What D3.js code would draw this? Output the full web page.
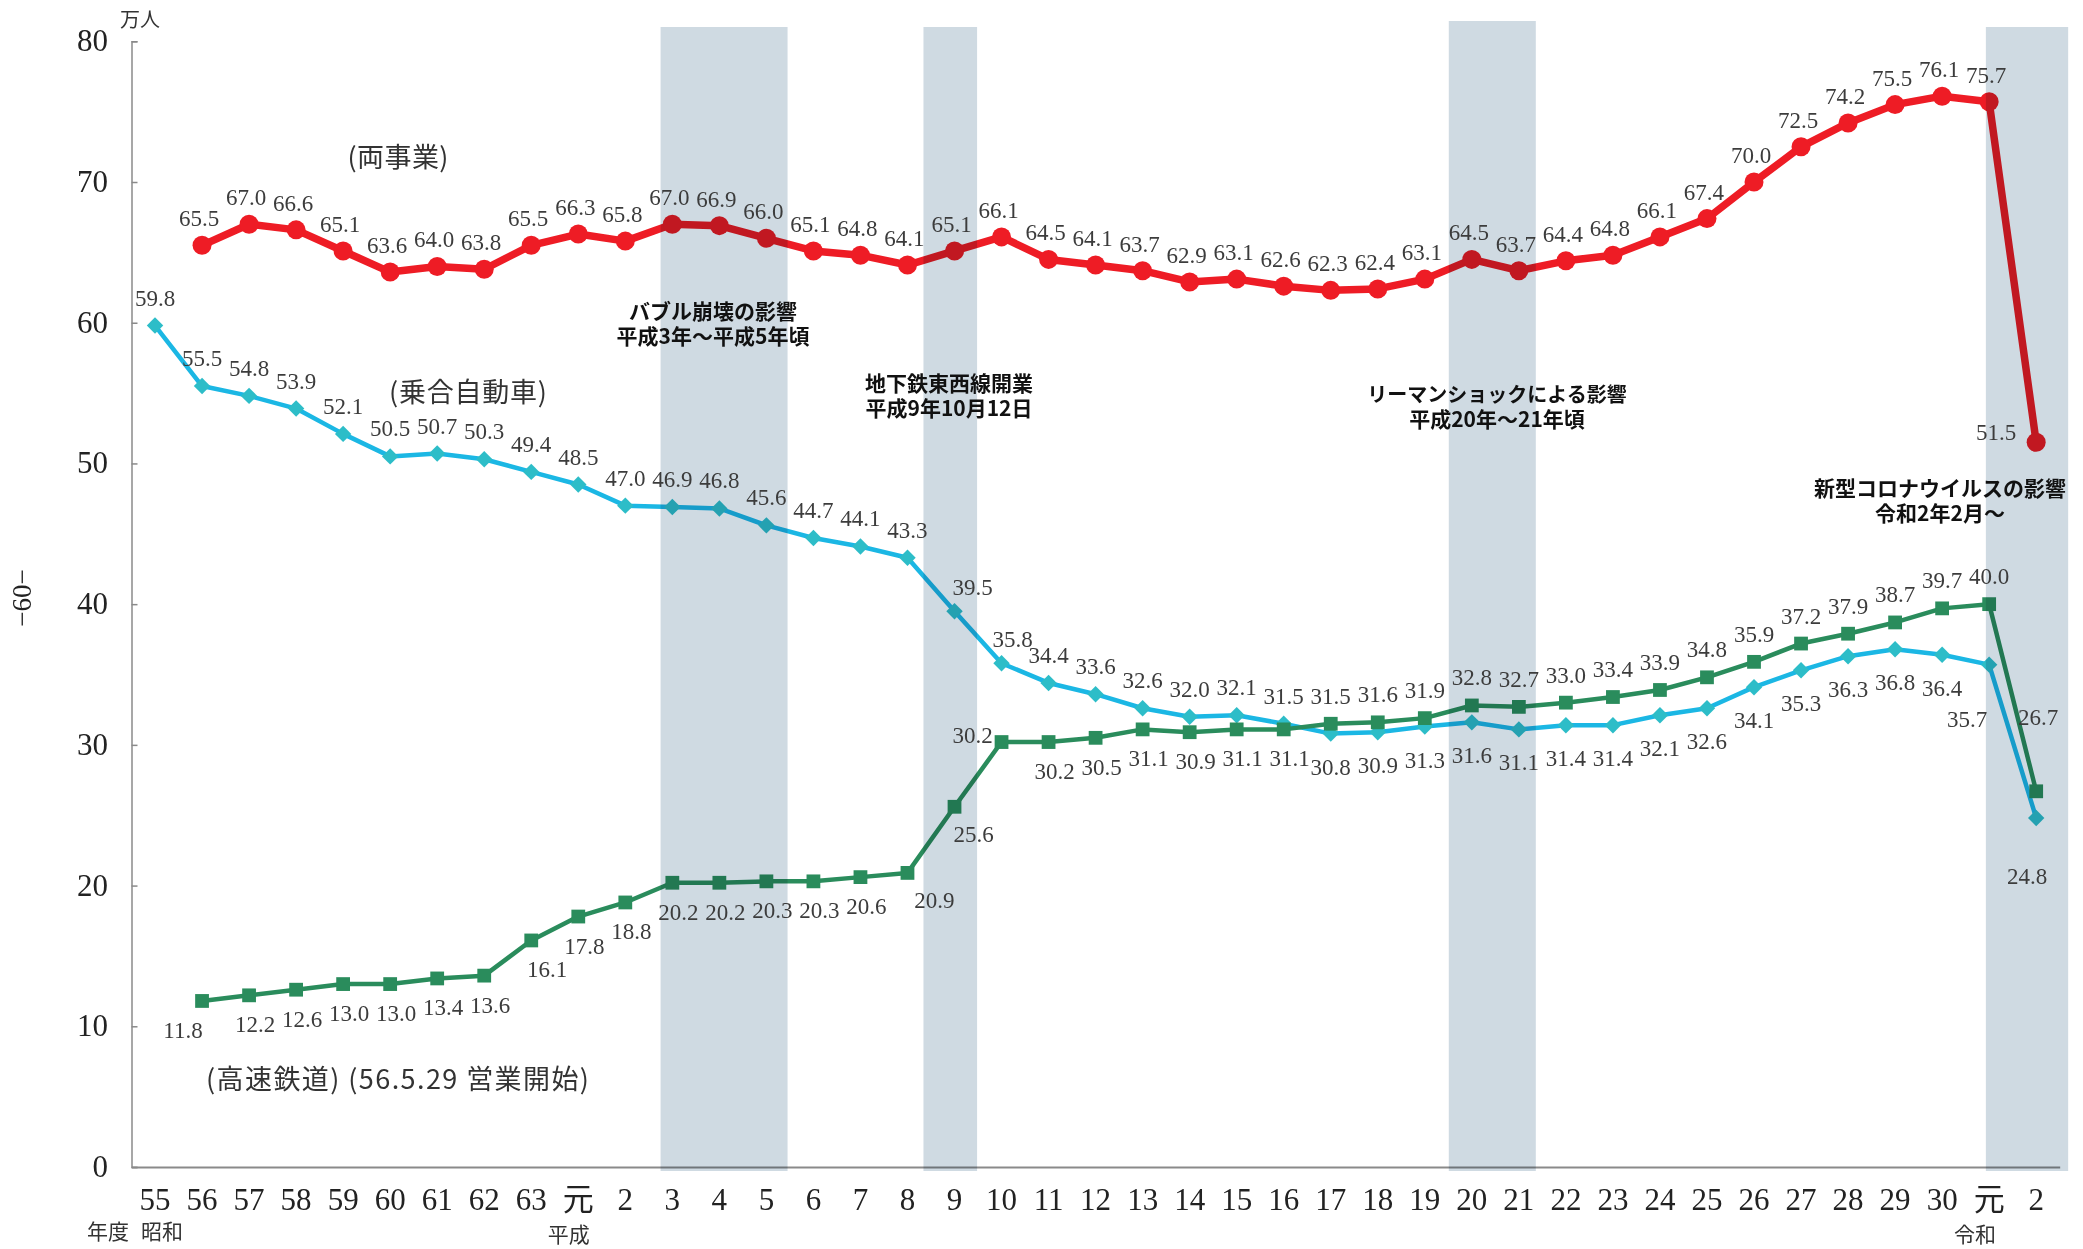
<!DOCTYPE html>
<meta charset="utf-8">
<script src="https://cdn.jsdelivr.net/npm/d3@7"></script>
<style>
body { margin: 0; background: #fff; }
.num { font-family: "Liberation Serif", serif; fill: #3c3c3c; }
.jp { font-family: "Noto Sans CJK JP", sans-serif; fill: #333; }
.note { font-family: "Noto Sans CJK JP", sans-serif; font-weight: bold; fill: #111; font-size: 21px; }
</style>
<body>
<script>

// fiscal year categories (昭和55 .. 令和2)
var years = ["55","56","57","58","59","60","61","62","63","元","2","3","4","5","6","7","8","9","10",
  "11","12","13","14","15","16","17","18","19","20","21","22","23","24","25","26","27","28","29","30","元","2"];

// 両事業 (万人)
var total = [null,65.5,67.0,66.6,65.1,63.6,64.0,63.8,65.5,66.3,65.8,67.0,66.9,66.0,65.1,64.8,64.1,65.1,66.1,
  64.5,64.1,63.7,62.9,63.1,62.6,62.3,62.4,63.1,64.5,63.7,64.4,64.8,66.1,67.4,70.0,72.5,74.2,75.5,76.1,75.7,51.5];

// 乗合自動車
var bus = [59.8,55.5,54.8,53.9,52.1,50.5,50.7,50.3,49.4,48.5,47.0,46.9,46.8,45.6,44.7,44.1,43.3,39.5,35.8,
  34.4,33.6,32.6,32.0,32.1,31.5,30.8,30.9,31.3,31.6,31.1,31.4,31.4,32.1,32.6,34.1,35.3,36.3,36.8,36.4,35.7,24.8];

// 高速鉄道
var subway = [null,11.8,12.2,12.6,13.0,13.0,13.4,13.6,16.1,17.8,18.8,20.2,20.2,20.3,20.3,20.6,20.9,25.6,30.2,
  30.2,30.5,31.1,30.9,31.1,31.1,31.5,31.6,31.9,32.8,32.7,33.0,33.4,33.9,34.8,35.9,37.2,37.9,38.7,39.7,40.0,26.7];

var yTicks = [0,10,20,30,40,50,60,70,80];

// shaded periods, in category units (start, end)
var periods = [[10.75,13.45],[16.34,17.48],[27.51,29.36],[38.93,40.68]];
var notes = [
  ["バブル崩壊の影響","平成3年～平成5年頃"],
  ["地下鉄東西線開業","平成9年10月12日"],
  ["リーマンショックによる影響","平成20年～21年頃"],
  ["新型コロナウイルスの影響","令和2年2月～"]
];
var eras = [["年度",-1.0],["昭和",0.15],["平成",8.8],["令和",38.7]];

var W = 2083, H = 1249;
var svg = d3.select("body").append("svg").attr("width", W).attr("height", H);

var x = d3.scaleBand().domain(d3.range(years.length)).range([131.5, 2059.7]);
var y = d3.scaleLinear().domain([0, 80]).range([1167, 41.3]);
var cx = function(i) { return x(i) + x.bandwidth() / 2; };
var ux = function(u) { return cx(0) + u * x.step(); };

// axes
var ya = svg.append("g").attr("transform", "translate(131.5,0)")
  .call(d3.axisRight(y).tickValues(yTicks).tickSize(6).tickFormat(""));
ya.select(".domain").attr("stroke", "#8a8a8a").attr("stroke-width", 1.5);
ya.selectAll(".tick line").attr("stroke", "#8a8a8a").attr("stroke-width", 1.5);

svg.append("g").selectAll("text").data(yTicks).enter().append("text")
  .attr("class", "num").attr("x", 108).attr("y", function(d) { return y(d) + 10; })
  .attr("text-anchor", "end").style("font-size", "31px").style("fill", "#222")
  .text(function(d) { return d; });

var xa = svg.append("g").attr("transform", "translate(0,1167)")
  .call(d3.axisBottom(x).tickSize(0).tickFormat(""));
xa.select(".domain").attr("stroke", "#8a8a8a").attr("stroke-width", 2);

svg.append("g").selectAll("text").data(years).enter().append("text")
  .attr("class", "num").attr("x", function(d, i) { return cx(i); }).attr("y", 1210)
  .attr("text-anchor", "middle").style("font-size", "31px").style("fill", "#222")
  .style("font-family", function(d) { return d === "元" ? "Noto Sans CJK JP" : null; })
  .text(function(d) { return d; });

svg.append("g").selectAll("text").data(eras).enter().append("text")
  .attr("class", "jp").attr("x", function(d) { return ux(d[1]); })
  .attr("y", function(d) { return d[1] > 5 ? 1242 : 1239; })
  .attr("text-anchor", "middle").style("font-size", "21px")
  .text(function(d) { return d[0]; });

svg.append("text").attr("class", "jp").attr("x", 140).attr("y", 27)
  .attr("text-anchor", "middle").style("font-size", "20px").text("万人");

svg.append("text").attr("class", "num")
  .attr("transform", "translate(31,598) rotate(-90)")
  .attr("text-anchor", "middle").style("font-size", "27px").style("fill", "#222")
  .text("−60−");

// series
var series = [
  { key: "bus", values: bus, line: "#1bb7e4", mark: "#2dbdc8", width: 4.5, shape: "diamond" },
  { key: "subway", values: subway, line: "#2a8c5c", mark: "#2a8c5c", width: 4.5, shape: "square" },
  { key: "total", values: total, line: "#ee1c25", mark: "#ee1c25", width: 7.5, shape: "circle" }
];

var line = d3.line().defined(function(d) { return d != null; })
  .x(function(d, i) { return cx(i); }).y(function(d) { return y(d); });

series.forEach(function(s) {
  svg.append("path").datum(s.values).attr("d", line)
    .attr("fill", "none").attr("stroke", s.line).attr("stroke-width", s.width)
    .attr("stroke-linejoin", "round");
  var pts = s.values.map(function(v, i) { return { v: v, i: i }; }).filter(function(d) { return d.v != null; });
  var g = svg.append("g");
  if (s.shape === "circle") {
    g.selectAll("circle").data(pts).enter().append("circle")
      .attr("cx", function(d) { return cx(d.i); }).attr("cy", function(d) { return y(d.v); })
      .attr("r", 9.5).attr("fill", s.mark);
  } else {
    var sym = d3.symbol().type(d3.symbolSquare).size(s.shape === "diamond" ? 135 : 190);
    g.selectAll("path").data(pts).enter().append("path").attr("d", sym)
      .attr("transform", function(d) {
        return "translate(" + cx(d.i) + "," + y(d.v) + ")" + (s.shape === "diamond" ? " rotate(45)" : "");
      })
      .attr("fill", s.mark);
  }
});

// shaded periods (multiply so lines underneath darken)
svg.append("g").selectAll("rect").data(periods).enter().append("rect")
  .attr("x", function(d) { return ux(d[0]); })
  .attr("width", function(d) { return ux(d[1]) - ux(d[0]); })
  .attr("y", function(d, i) { return i === 2 ? 21 : 27; })
  .attr("height", function(d, i) { return 1171 - (i === 2 ? 21 : 27); })
  .attr("fill", "#cfdae2").style("mix-blend-mode", "multiply");

// data labels
function offset(key, i) {
  if (key === "total") return i === 40 ? [-40, -2] : [-3, -19];
  if (key === "bus") {
    if (i === 17) return [18, -16];
    if (i === 18) return [11, -16];
    if (i === 39) return [-22, 62];
    if (i === 40) return [-9, 66];
    return i <= 24 ? [0, -20] : [0, 41];
  }
  if (i === 1) return [-19, 37];
  if (i === 8) return [16, 37];
  if (i === 16) return [27, 35];
  if (i === 17) return [19, 35];
  if (i === 18) return [-29, 1];
  if (i === 40) return [2, -66];
  return i <= 24 ? [6, 37] : [0, -20];
}

series.forEach(function(s) {
  var pts = s.values.map(function(v, i) { return { v: v, i: i }; }).filter(function(d) { return d.v != null; });
  svg.append("g").selectAll("text").data(pts).enter().append("text")
    .attr("class", "num")
    .attr("x", function(d) { return cx(d.i) + offset(s.key, d.i)[0]; })
    .attr("y", function(d) { return y(d.v) + offset(s.key, d.i)[1]; })
    .attr("text-anchor", "middle").style("font-size", "23px")
    .text(function(d) { return d.v.toFixed(1); });
});

// series names
svg.append("text").attr("class", "jp").attr("x", 398).attr("y", 167)
  .attr("text-anchor", "middle").style("font-size", "27px")
  .attr("textLength", 101).attr("lengthAdjust", "spacing").text("(両事業)");
svg.append("text").attr("class", "jp").attr("x", 468).attr("y", 402)
  .attr("text-anchor", "middle").style("font-size", "27px")
  .attr("textLength", 158).attr("lengthAdjust", "spacing").text("(乗合自動車)");
svg.append("text").attr("class", "jp").attr("x", 206).attr("y", 1089)
  .style("font-size", "27px").attr("textLength", 383).attr("lengthAdjust", "spacing")
  .text("(高速鉄道) (56.5.29  営業開始)");

// period notes
var notePos = [[713, 319], [949, 391], [1497, 402], [1940, 496]];
notes.forEach(function(n, k) {
  var t = svg.append("text").attr("class", "note").attr("text-anchor", "middle");
  n.forEach(function(line, j) {
    t.append("tspan").attr("x", notePos[k][0]).attr("y", notePos[k][1] + j * 25)
      .style("font-size", k === 2 && j === 0 ? "20px" : null).text(line);
  });
});

</script>
</body>
